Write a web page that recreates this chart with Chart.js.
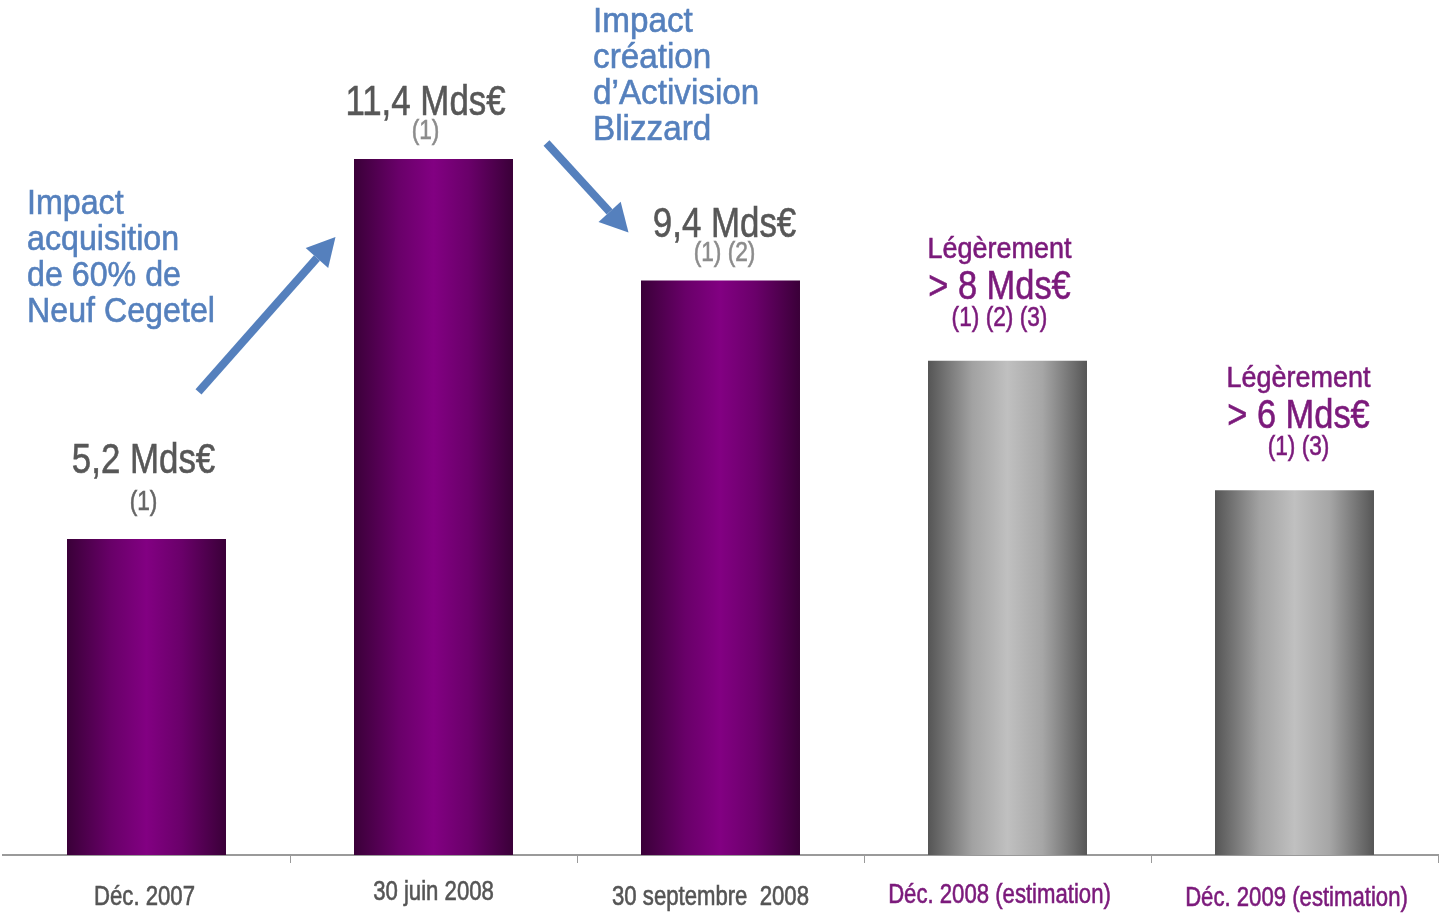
<!DOCTYPE html>
<html>
<head>
<meta charset="utf-8">
<script src="https://cdn.jsdelivr.net/npm/chart.js@4.4.1/dist/chart.umd.min.js"></script>
<style>
  html, body { margin: 0; padding: 0; background: #fff; }
  #wrap { width: 1439px; height: 913px; position: relative; }
</style>
</head>
<body>
<div id="wrap"><canvas id="chart"></canvas></div>
<script>
// Data
const categories = ['Déc. 2007', '30 juin 2008', '30 septembre  2008', 'Déc. 2008 (estimation)', 'Déc. 2009 (estimation)'];
const values = [5.2, 11.45, 9.45, 8.13, 6.0];
const estimated = [false, false, false, true, true];
const valueLabels = ['5,2 Mds€', '11,4 Mds€', '9,4 Mds€', '> 8 Mds€', '> 6 Mds€'];
const prefixLabels = ['', '', '', 'Légèrement', 'Légèrement'];
const noteLabels = ['(1)', '(1)', '(1) (2)', '(1) (2) (3)', '(1) (3)'];
const notesLeft = ['Impact', 'acquisition', 'de 60% de', 'Neuf Cegetel'];
const notesRight = ['Impact', 'création', 'd\u2019Activision', 'Blizzard'];

const FONT = "'Liberation Sans', Arial, sans-serif";
const PURPLE = '#7b1a7b';
const BLUE = '#5580bd';
const BAR_PCT = 0.554;

function barGradient(ctx) {
    const chart = ctx.chart;
    const i = ctx.dataIndex;
    if (!chart.chartArea || !chart.scales.x) return estimated[i] ? '#999' : '#6a006a';
    const xs = chart.scales.x;
    const cx = xs.getPixelForValue(i);
    const w = (xs.width / categories.length) * BAR_PCT;
    const g = chart.ctx.createLinearGradient(cx - w / 2, 0, cx + w / 2, 0);
    if (estimated[i]) {
        g.addColorStop(0, '#555555');
        g.addColorStop(0.28, '#a2a2a2');
        g.addColorStop(0.5, '#c0c0c0');
        g.addColorStop(0.72, '#a6a6a6');
        g.addColorStop(1, '#565656');
    } else {
        g.addColorStop(0, '#3a0038');
        g.addColorStop(0.28, '#690069');
        g.addColorStop(0.5, '#820082');
        g.addColorStop(0.72, '#6a006a');
        g.addColorStop(1, '#3a0038');
    }
    return g;
}

// narrow text: regular font squeezed horizontally, lightly stroked for weight
function narrowText(c, text, x, y, size, color, sx, align) {
    c.save();
    c.font = size + 'px ' + FONT;
    c.fillStyle = color;
    c.strokeStyle = color;
    c.lineWidth = 0.6;
    c.textAlign = align || 'center';
    c.textBaseline = 'alphabetic';
    c.translate(x, y);
    c.scale(sx, 1);
    c.fillText(text, 0, 0);
    c.strokeText(text, 0, 0);
    c.restore();
}

function drawArrow(c, x1, y1, x2, y2) {
    const ang = Math.atan2(y2 - y1, x2 - x1);
    const headLen = 28, headW = 15;
    const bx = x2 - headLen * Math.cos(ang), by = y2 - headLen * Math.sin(ang);
    c.strokeStyle = BLUE;
    c.fillStyle = BLUE;
    c.lineWidth = 8;
    c.beginPath();
    c.moveTo(x1, y1);
    c.lineTo(bx, by);
    c.stroke();
    c.beginPath();
    c.moveTo(x2, y2);
    c.lineTo(bx + headW * Math.sin(ang), by - headW * Math.cos(ang));
    c.lineTo(bx - headW * Math.sin(ang), by + headW * Math.cos(ang));
    c.closePath();
    c.fill();
}

const labelPlugin = {
    id: 'labels',
    afterDatasetsDraw(chart) {
        const c = chart.ctx;
        const bars = chart.getDatasetMeta(0).data;
        const dx = [-3, -8, 4, -8, 4];
        bars.forEach((bar, i) => {
            const x = bar.x + dx[i], top = bar.y;
            if (estimated[i]) {
                narrowText(c, prefixLabels[i], x, top - 103, 29, PURPLE, 0.93);
                narrowText(c, valueLabels[i], x, top - 62, 40, PURPLE, 0.86);
                narrowText(c, noteLabels[i], x, top - 35, 27, PURPLE, 0.84);
            } else {
                const offs = i === 0 ? [66, 29] : [44, 20];
                narrowText(c, valueLabels[i], x, top - offs[0], 42, '#575757', 0.83);
                narrowText(c, noteLabels[i], x, top - offs[1], 27, i === 0 ? '#666' : '#8c8c8c', 0.84);
            }
        });

        // x tick labels
        const xs = chart.scales.x;
        const tdx = [-2, 0, -10, -8, 2];
        const tdy = [905, 900, 905, 903, 906];
        categories.forEach((t, i) => {
            narrowText(c, t, xs.getPixelForValue(i) + tdx[i], tdy[i], 27, estimated[i] ? PURPLE : '#555', 0.82);
        });

        // annotation texts
        notesLeft.forEach((t, k) => narrowText(c, t, 27, 214 + k * 36, 35, BLUE, 0.92, 'left'));
        notesRight.forEach((t, k) => narrowText(c, t, 593, 32 + k * 36, 35, BLUE, 0.95, 'left'));

        // arrows, anchored to the bars they point at
        const b0 = bars[0], b1 = bars[1], b2 = bars[2];
        c.save();
        drawArrow(c, b0.x + 52, b0.y - 147, b1.x - 98, b1.y + 78);
        drawArrow(c, b1.x + 113, b1.y - 16, b2.x - 92, b2.y - 48);
        c.restore();
    }
};

new Chart(document.getElementById('chart'), {
    type: 'bar',
    data: {
        labels: categories,
        datasets: [{
            data: values,
            backgroundColor: barGradient,
            borderWidth: 0,
            categoryPercentage: 1,
            barPercentage: BAR_PCT
        }]
    },
    options: {
        responsive: true,
        maintainAspectRatio: false,
        animation: false,
        layout: { padding: { left: 3, right: 1, top: 4, bottom: 50 } },
        plugins: { legend: { display: false }, tooltip: { enabled: false } },
        scales: {
            x: {
                grid: {
                    offset: true, drawOnChartArea: false, tickLength: 8, lineWidth: 1,
                    color: ctx => ctx.index === 0 ? 'rgba(0,0,0,0)' : '#9a9a9a'
                },
                border: { display: true, color: '#9a9a9a', width: 2 },
                ticks: { display: false }
            },
            y: { display: false, min: 0, max: 14 }
        }
    },
    plugins: [labelPlugin]
});
</script>
</body>
</html>
